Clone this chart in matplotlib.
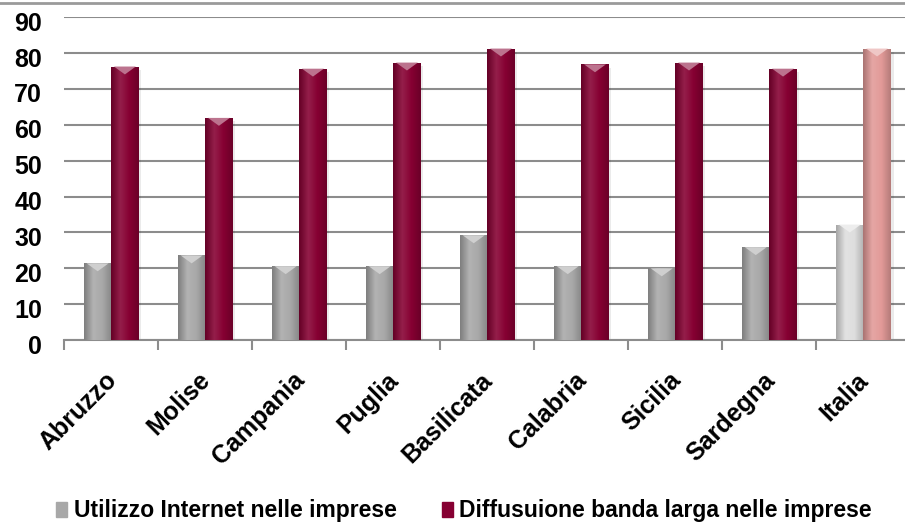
import numpy as np
import matplotlib.pyplot as plt
from matplotlib.colors import LinearSegmentedColormap
from matplotlib.patches import Rectangle
from matplotlib.lines import Line2D
from matplotlib.transforms import ScaledTranslation

regioni = ['Abruzzo', 'Molise', 'Campania', 'Puglia', 'Basilicata',
           'Calabria', 'Sicilia', 'Sardegna', 'Italia']
internet = [21.4, 23.6, 20.6, 20.6, 29.2, 20.6, 20.0, 25.9, 32.2]
banda_larga = [76.2, 61.9, 75.6, 77.3, 81.2, 76.8, 77.3, 75.6, 81.2]

plt.rcParams['font.family'] = ['Liberation Sans', 'DejaVu Sans']
plt.rcParams['font.weight'] = 'bold'

# colori: regioni scure, Italia chiara
col_int = ['#a8a8a8'] * 8 + ['#dedede']
col_bl = ['#860032'] * 8 + ['#e29a98']


def shade(c, f):
    c = np.array(plt.matplotlib.colors.to_rgb(c))
    return tuple(np.clip(c * f, 0, 1)) if f < 1 else tuple(c + (1 - c) * (f - 1))


def gradient_bars(ax, bars, colors):
    # riempie ogni barra con un gradiente orizzontale e uno smusso in alto
    for b, c in zip(bars, colors):
        x, y = b.get_x(), b.get_y()
        w, h = b.get_width(), b.get_height()
        cmap = LinearSegmentedColormap.from_list(
            'g', [shade(c, 0.75), shade(c, 1.12), c, shade(c, 0.8)])
        grad = np.linspace(0, 1, 64).reshape(1, -1)
        im = ax.imshow(grad, cmap=cmap, extent=(x, x + w, y, y + h),
                       aspect='auto', zorder=3, interpolation='bicubic')
        im.set_clip_path(b)
        # ombra leggera a destra
        ax.add_patch(Rectangle((x + w, y), 0.03, h - 1, color='#000000',
                               alpha=0.08, lw=0, zorder=1))
        # smusso triangolare chiaro in cima
        tri = plt.Polygon([(x + 0.1 * w, y + h), (x + 0.9 * w, y + h),
                           (x + 0.5 * w, y + h - 2.2)],
                          closed=True, color=shade(c, 1.45), lw=0, zorder=4)
        ax.add_patch(tri)
        b.set_facecolor('none')


fig = plt.figure(figsize=(9.05, 5.30), dpi=100)
ax = fig.add_axes([0.071, 0.358, 0.935, 0.61])

x = np.arange(len(regioni))
w = 0.29
b1 = ax.bar(x - w / 2, internet, w, color=col_int, edgecolor='none', zorder=2)
b2 = ax.bar(x + w / 2, banda_larga, w, color=col_bl, edgecolor='none', zorder=2)
gradient_bars(ax, b1, col_int)
gradient_bars(ax, b2, col_bl)

ax.set_xlim(-0.5, 8.5)
ax.set_ylim(0, 90)
ax.set_yticks(range(0, 91, 10))
ax.yaxis.grid(True, color='#8c8c8c', lw=1.5)
ax.set_axisbelow(True)
for s in ['top', 'right', 'left']:
    ax.spines[s].set_visible(False)
ax.spines['bottom'].set_color('#8c8c8c')
ax.spines['bottom'].set_linewidth(1.5)
ax.tick_params(axis='y', length=0, labelsize=18, pad=16)
ydown = ScaledTranslation(0, -3 / 72, fig.dpi_scale_trans)
for lab in ax.get_yticklabels():
    lab.set_transform(lab.get_transform() + ydown)

ax.set_xticks(np.arange(-0.5, 8.5, 1), minor=False)
ax.set_xticklabels([])
ax.tick_params(axis='x', which='major', length=7, color='#8c8c8c', width=1.5)
ax.set_xticks(x, minor=True)
ax.set_xticklabels(regioni, minor=True, rotation=45, ha='right',
                   rotation_mode='anchor', fontsize=18, fontweight='bold')
ax.tick_params(axis='x', which='minor', length=0, pad=20)
shift = ScaledTranslation(-5 / 72, 0, fig.dpi_scale_trans)
for lab in ax.get_xticklabels(minor=True):
    lab.set_transform(lab.get_transform() + shift)

# linea grigia sul bordo superiore
fig.add_artist(Line2D([0, 1], [0.994, 0.994], color='#9a9a9a', lw=2))

handles = [Rectangle((0, 0), 1, 1, color='#a8a8a8'),
           Rectangle((0, 0), 1, 1, color='#860032')]
fig.legend(handles, ['Utilizzo Internet nelle imprese',
                     'Diffusuione banda larga nelle imprese'],
           loc='center', bbox_to_anchor=(0.513, 0.036), ncol=2, frameon=False,
           handlelength=0.45, handleheight=0.6, handletextpad=0.3,
           columnspacing=2.0, prop={'weight': 'bold', 'size': 16.5})

fig.savefig('out.png', dpi=100)
